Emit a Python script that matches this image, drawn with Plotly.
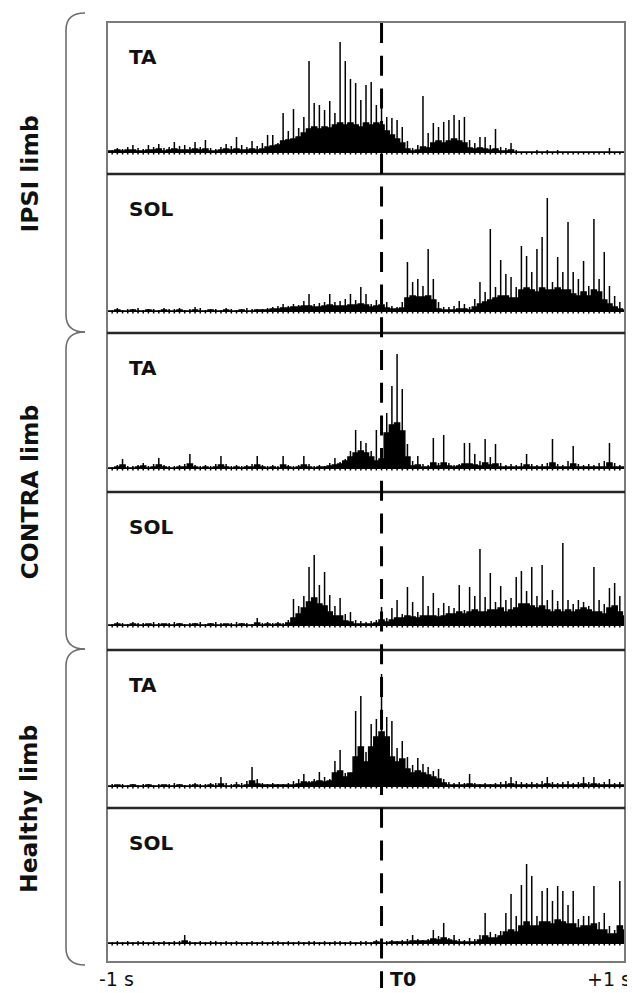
import numpy as np
import plotly.graph_objects as go
from plotly.subplots import make_subplots

# ---------------- data ----------------
TIME_S = np.round(np.linspace(-1.0, 1.0, 101), 3)   # sample times (s), 20 ms bins
T0_S = 0.06                                         # event marker time (s)

PANEL_MUSCLES = ["TA", "SOL", "TA", "SOL", "TA", "SOL"]
GROUP_LABELS = ["IPSI limb", "CONTRA limb", "Healthy limb"]
X_TICK_TEXT = ["-1 s", "T0", "+1 s"]

# amplitude (a.u.): thin spike peak and dense-envelope height per bin
ipsi_ta_peak = [4, 3, 5, 4, 6, 8, 5, 4, 8, 6,
                9, 5, 6, 11, 7, 8, 6, 11, 6, 13,
                5, 4, 6, 9, 7, 16, 8, 6, 12, 7,
                10, 18, 18, 10, 40, 22, 44, 25, 36, 92,
                50, 48, 43, 52, 40, 111, 92, 74, 70, 53,
                68, 71, 48, 63, 36, 35, 33, 26, 12, 5,
                8, 57, 20, 30, 26, 31, 33, 38, 33, 36,
                13, 10, 16, 16, 8, 24, 6, 5, 10, 3,
                1, 1, 1, 3, 1, 3, 1, 3, 1, 1,
                1, 1, 1, 1, 1, 1, 1, 5, 1, 1,
                2]
ipsi_ta_body = [2, 2, 3, 2, 3, 3, 2, 2, 3, 3,
                4, 2, 3, 4, 3, 3, 3, 4, 3, 4,
                2, 2, 3, 4, 3, 4, 3, 3, 4, 3,
                4, 6, 7, 8, 12, 13, 14, 16, 20, 24,
                26, 24, 26, 25, 28, 30, 28, 30, 28, 26,
                30, 28, 30, 28, 22, 18, 14, 10, 4, 2,
                3, 6, 5, 10, 12, 10, 12, 14, 12, 10,
                5, 4, 5, 4, 3, 4, 2, 2, 3, 1,
                1, 1, 1, 1, 1, 1, 1, 1, 1, 1,
                1, 1, 1, 1, 1, 1, 1, 1, 1, 1,
                1]

ipsi_sol_peak = [3, 2, 4, 2, 3, 3, 4, 2, 3, 3,
                 2, 4, 3, 3, 4, 2, 3, 5, 4, 2,
                 3, 3, 2, 4, 3, 2, 3, 4, 3, 3,
                 3, 4, 5, 6, 8, 6, 8, 7, 11, 18,
                 8, 9, 10, 18, 10, 11, 13, 18, 12, 25,
                 18, 8, 12, 25, 10, 6, 5, 10, 50, 30,
                 33, 26, 63, 33, 10, 5, 5, 6, 11, 8,
                 5, 13, 30, 20, 83, 25, 52, 38, 35, 25,
                 66, 56, 40, 63, 75, 114, 30, 55, 40, 90,
                 40, 33, 51, 26, 93, 33, 60, 26, 16, 10,
                 5]
ipsi_sol_body = [1, 1, 2, 1, 1, 2, 1, 1, 2, 1,
                 1, 2, 1, 1, 2, 1, 1, 2, 1, 1,
                 2, 1, 1, 2, 1, 1, 2, 1, 1, 2,
                 2, 2, 3, 3, 4, 4, 5, 5, 6, 6,
                 5, 5, 6, 7, 6, 6, 6, 7, 7, 8,
                 7, 5, 6, 7, 4, 3, 3, 4, 14, 16,
                 15, 15, 16, 12, 3, 2, 2, 2, 3, 3,
                 2, 5, 8, 10, 12, 14, 16, 16, 14, 14,
                 22, 24, 22, 20, 24, 22, 22, 24, 22, 22,
                 18, 16, 20, 16, 22, 20, 12, 8, 5, 3,
                 2]

contra_ta_peak = [3, 2, 4, 10, 3, 3, 4, 6, 3, 5,
                  11, 4, 3, 3, 4, 5, 15, 4, 3, 4,
                  3, 5, 13, 5, 3, 4, 3, 4, 5, 13,
                  4, 3, 4, 3, 13, 4, 3, 4, 13, 5,
                  3, 4, 3, 6, 11, 7, 10, 18, 39, 28,
                  26, 18, 39, 20, 56, 83, 115, 80, 25, 8,
                  13, 5, 4, 31, 6, 34, 6, 4, 5, 26,
                  26, 15, 8, 30, 12, 25, 6, 4, 5, 4,
                  6, 15, 5, 4, 5, 6, 30, 5, 4, 8,
                  23, 5, 4, 5, 4, 6, 8, 26, 6, 4,
                  3]
contra_ta_body = [1, 1, 2, 4, 1, 1, 2, 3, 1, 2,
                  4, 2, 1, 1, 2, 2, 5, 2, 1, 2,
                  1, 2, 4, 2, 1, 2, 1, 2, 2, 4,
                  2, 1, 2, 1, 4, 2, 1, 2, 4, 2,
                  1, 2, 2, 3, 4, 5, 8, 12, 16, 18,
                  16, 12, 8, 10, 36, 44, 46, 38, 12, 3,
                  4, 2, 2, 6, 3, 6, 3, 2, 3, 5,
                  5, 4, 3, 6, 4, 5, 2, 2, 2, 2,
                  2, 4, 2, 2, 2, 2, 6, 2, 2, 2,
                  5, 2, 2, 2, 2, 2, 2, 6, 2, 2,
                  2]

contra_sol_peak = [3, 2, 4, 3, 2, 4, 3, 3, 2, 4,
                   3, 2, 3, 4, 3, 2, 3, 3, 4, 2,
                   3, 4, 3, 2, 3, 4, 3, 3, 2, 8,
                   3, 4, 3, 4, 3, 6, 27, 20, 30, 59,
                   71, 41, 54, 31, 20, 28, 12, 14, 6, 5,
                   4, 5, 6, 19, 8, 18, 26, 12, 39, 24,
                   14, 50, 20, 33, 18, 23, 20, 18, 41, 16,
                   39, 30, 77, 29, 53, 24, 40, 26, 28, 49,
                   55, 35, 59, 30, 61, 26, 36, 25, 83, 26,
                   22, 26, 24, 20, 59, 26, 22, 38, 43, 30,
                   22]
contra_sol_body = [1, 1, 2, 1, 1, 2, 1, 1, 2, 1,
                   1, 2, 1, 1, 2, 1, 1, 2, 1, 1,
                   2, 1, 1, 2, 1, 1, 2, 1, 1, 3,
                   1, 2, 1, 2, 1, 3, 8, 12, 18, 24,
                   28, 22, 20, 14, 10, 10, 5, 4, 2, 2,
                   2, 2, 3, 6, 4, 6, 8, 8, 10, 9,
                   8, 10, 10, 10, 9, 10, 12, 12, 14, 12,
                   14, 16, 14, 14, 16, 16, 18, 14, 16, 18,
                   22, 22, 20, 18, 20, 16, 14, 16, 14, 16,
                   14, 16, 18, 16, 14, 14, 12, 18, 20, 14,
                   10]

healthy_ta_peak = [2, 3, 2, 3, 2, 3, 2, 3, 3, 2,
                   3, 2, 3, 4, 3, 2, 3, 4, 3, 3,
                   4, 4, 10, 4, 3, 5, 4, 6, 20, 8,
                   4, 3, 4, 3, 3, 4, 6, 8, 13, 6,
                   8, 15, 10, 8, 26, 37, 14, 12, 76, 91,
                   35, 63, 68, 113, 70, 66, 39, 46, 30, 22,
                   29, 23, 20, 16, 18, 8, 5, 4, 5, 4,
                   13, 4, 3, 4, 3, 4, 5, 6, 10, 6,
                   5, 4, 5, 4, 6, 10, 5, 4, 5, 6,
                   4, 5, 10, 5, 10, 4, 5, 8, 4, 5,
                   4]
healthy_ta_body = [1, 1, 2, 1, 1, 2, 1, 1, 2, 1,
                   1, 2, 1, 1, 2, 1, 1, 2, 1, 1,
                   2, 1, 3, 1, 1, 2, 1, 2, 6, 3,
                   2, 2, 2, 2, 2, 2, 2, 3, 5, 4,
                   5, 6, 5, 6, 14, 16, 10, 14, 30, 40,
                   25, 40, 50, 55, 50, 30, 25, 28, 18, 14,
                   16, 14, 12, 10, 8, 4, 2, 2, 2, 2,
                   3, 2, 2, 2, 2, 2, 2, 2, 3, 2,
                   2, 2, 2, 2, 2, 3, 2, 2, 2, 2,
                   2, 2, 3, 2, 3, 2, 2, 2, 2, 2,
                   2]

healthy_sol_peak = [3, 2, 3, 2, 3, 2, 3, 3, 2, 3,
                    2, 3, 2, 3, 3, 9, 3, 2, 3, 2,
                    3, 3, 2, 3, 2, 3, 2, 2, 3, 2,
                    3, 2, 3, 3, 2, 3, 2, 3, 2, 3,
                    3, 2, 3, 2, 3, 3, 2, 3, 2, 3,
                    3, 2, 4, 3, 3, 4, 3, 4, 5, 9,
                    5, 4, 5, 14, 8, 21, 6, 9, 5, 4,
                    6, 5, 9, 31, 12, 10, 13, 31, 50, 28,
                    59, 80, 68, 28, 53, 56, 43, 58, 53, 39,
                    53, 25, 28, 28, 58, 22, 31, 18, 14, 63,
                    35]
healthy_sol_body = [1, 1, 1, 1, 1, 1, 1, 1, 1, 1,
                    1, 1, 1, 1, 1, 3, 1, 1, 1, 1,
                    1, 1, 1, 1, 1, 1, 1, 1, 1, 1,
                    1, 1, 1, 1, 1, 1, 1, 1, 1, 1,
                    1, 1, 1, 1, 1, 1, 1, 1, 1, 1,
                    1, 1, 2, 1, 1, 2, 2, 2, 2, 3,
                    3, 3, 3, 5, 4, 6, 4, 3, 2, 2,
                    2, 2, 4, 8, 6, 6, 8, 12, 14, 12,
                    18, 22, 18, 18, 22, 22, 20, 24, 22, 20,
                    20, 16, 18, 18, 20, 14, 14, 10, 10, 18,
                    14]

PEAKS = [ipsi_ta_peak, ipsi_sol_peak, contra_ta_peak,
         contra_sol_peak, healthy_ta_peak, healthy_sol_peak]
BODIES = [ipsi_ta_body, ipsi_sol_body, contra_ta_body,
          contra_sol_body, healthy_ta_body, healthy_sol_body]
for arr in PEAKS + BODIES:
    assert len(arr) == len(TIME_S), len(arr)

# ---------------- layout / style ----------------
# the page body adds an 8 px margin, so the figure is 8 px smaller and every
# reference pixel position is shifted by that offset
PAGE_OFF = 8
W, H = 635 - PAGE_OFF, 993 - PAGE_OFF
REF_L, REF_R, REF_T, REF_B = 107, 625, 22, 962        # plot box in reference pixels
ML, MT = REF_L - PAGE_OFF, REF_T - PAGE_OFF
PW, PH = REF_R - REF_L, REF_B - REF_T
MR, MB = W - ML - PW, H - MT - PH
ROW_HEIGHTS = [152, 159, 159, 158, 158, 154]
Y_RANGES = [[-21, 131], [-21, 138], [-23, 136], [-24, 134], [-21, 137], [-18, 136]]
BASE_DIP = -1.5
INK = "#111111"
FONT = "DejaVu Sans"


def px(x, y):
    """reference-image pixel -> paper coordinates"""
    return (x - REF_L) / PW, (REF_B - y) / PH


fig = make_subplots(rows=6, cols=1, shared_xaxes=True, vertical_spacing=0,
                    row_heights=ROW_HEIGHTS)

for r, (peak, body) in enumerate(zip(PEAKS, BODIES), start=1):
    fig.add_trace(go.Scatter(x=TIME_S, y=body, mode="lines", fill="tozeroy",
                             fillcolor="black", line_shape="hvh",
                             line=dict(color="black", width=1.4),
                             hoverinfo="skip", showlegend=False), row=r, col=1)
    xs, ys = [], []
    for t, p in zip(TIME_S, peak):
        xs += [t, t, None]
        ys += [BASE_DIP, p, None]
    fig.add_trace(go.Scatter(x=xs, y=ys, mode="lines",
                             line=dict(color="black", width=1.5),
                             hoverinfo="skip", showlegend=False), row=r, col=1)
    fig.update_yaxes(range=Y_RANGES[r - 1], row=r, col=1)

fig.update_xaxes(range=[-1, 1], showticklabels=False, showgrid=False,
                 zeroline=False, showline=False, ticks="")
fig.update_yaxes(showticklabels=False, showgrid=False, zeroline=False,
                 showline=False, ticks="")

shapes = []
# outer frame
shapes.append(dict(type="rect", xref="paper", yref="paper", x0=0, x1=1, y0=0, y1=1,
                   line=dict(color="#7a7a7a", width=2), layer="above"))
# dividers between panels
for r in range(1, 6):
    yref = "y domain" if r == 1 else f"y{r} domain"
    shapes.append(dict(type="line", xref="paper", yref=yref, x0=0, x1=1, y0=0, y1=0,
                       line=dict(color="#262626", width=2.6), layer="above"))
# T0 dashed marker
_, y_top = px(0, 23)
_, y_bot = px(0, 988)
shapes.append(dict(type="line", xref="x", yref="paper", x0=T0_S, x1=T0_S,
                   y0=y_top, y1=y_bot,
                   line=dict(color="black", width=3, dash="20px,12.7px"), layer="above"))
# curly brackets
BRACES = [(13, 332), (332, 649), (649, 965)]
for yt, yb in BRACES:
    pts = [px(85, yt), px(66, yt), px(66, yt + 17), px(66, yb - 17), px(66, yb), px(85, yb)]
    path = ("M {:.5f},{:.5f} Q {:.5f},{:.5f} {:.5f},{:.5f} L {:.5f},{:.5f} "
            "Q {:.5f},{:.5f} {:.5f},{:.5f}").format(*[c for p in pts for c in p])
    shapes.append(dict(type="path", xref="paper", yref="paper", path=path,
                       line=dict(color="#6e6e6e", width=1.6)))

annotations = []
# muscle labels
for r, name in enumerate(PANEL_MUSCLES, start=1):
    sfx = "" if r == 1 else str(r)
    annotations.append(dict(text=name, xref=f"x{sfx} domain", yref=f"y{sfx} domain",
                            x=(127 - REF_L) / PW, y=1 - 35 / ROW_HEIGHTS[r - 1],
                            xanchor="left", yanchor="middle", showarrow=False,
                            font=dict(family=FONT, size=20, color=INK, weight="bold")))
# group labels
for (yt, yb), lab in zip(BRACES, GROUP_LABELS):
    gx, gy = px(29, (yt + yb) / 2 + 2)
    annotations.append(dict(text=lab, xref="paper", yref="paper", x=gx, y=gy,
                            xanchor="center", yanchor="middle", textangle=-90,
                            showarrow=False,
                            font=dict(family=FONT, size=23.5, color=INK, weight="bold")))
# time labels
for (x_px, anchor, bold), txt in zip([(97, "left", False), (388, "left", True),
                                      (633, "right", False)], X_TICK_TEXT):
    tx, ty = px(x_px, 979)
    annotations.append(dict(text=txt, xref="paper", yref="paper", x=tx, y=ty,
                            xanchor=anchor, yanchor="middle", showarrow=False,
                            font=dict(family=FONT, size=19, color=INK,
                                      weight="bold" if bold else "normal")))

fig.update_layout(width=W, height=H, margin=dict(l=ML, r=MR, t=MT, b=MB),
                  paper_bgcolor="white", plot_bgcolor="white",
                  shapes=shapes, annotations=annotations, showlegend=False)

fig.write_html("out.html")
